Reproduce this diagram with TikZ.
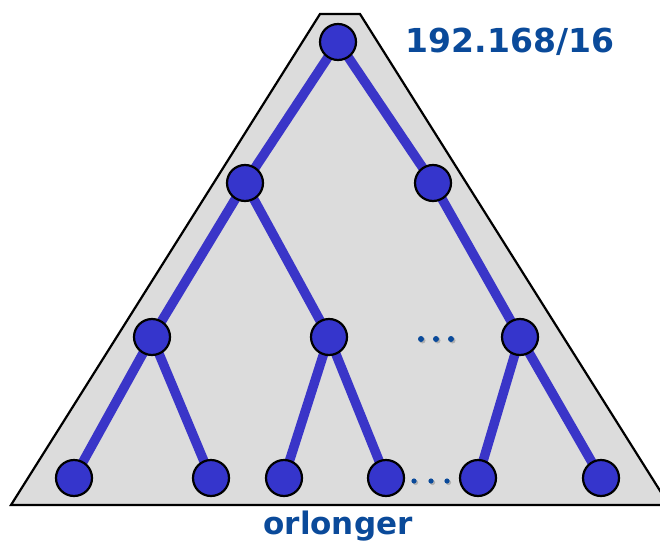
\documentclass[tikz,border=0pt]{standalone}
\usepackage{fontspec}
\setmainfont{DejaVu Sans}
\definecolor{edgeblue}{HTML}{3A35C8}
\definecolor{nodeblue}{HTML}{3535CC}
\definecolor{txtblue}{HTML}{0A4A9A}
\definecolor{tribg}{HTML}{DCDCDC}
\definecolor{shadowgray}{HTML}{B0B0B0}
\begin{document}
\begin{tikzpicture}[x=1pt,y=-1pt,
  vertex/.style={circle,draw=black,line width=2.2pt,fill=nodeblue,minimum size=36pt,inner sep=0pt},
  link/.style={edgeblue,line width=9.5pt},
  dotmark/.style={circle,fill=txtblue,minimum size=6pt,inner sep=0pt},
  lbl/.style={font=\fontsize{33}{35}\selectfont\bfseries,text=txtblue,inner sep=0pt}]
\useasboundingbox (0,0) rectangle (660,548);
\clip (0,0) rectangle (660,548);
\filldraw[fill=tribg,draw=black,line width=2.2pt] (11,505) -- (320,14) -- (360,14) -- (669,505) -- cycle;
% node positions
\coordinate (r) at (338,42);
\coordinate (a) at (245,183);
\coordinate (b) at (433,183);
\coordinate (c) at (152,337);
\coordinate (d) at (329,337);
\coordinate (e) at (520,337);
\coordinate (f) at (74,478);
\coordinate (g) at (211,478);
\coordinate (h) at (284,478);
\coordinate (i) at (386,478);
\coordinate (j) at (478,478);
\coordinate (k) at (601,478);
% edges
\foreach \u/\v in {r/a,r/b,a/c,a/d,b/e,c/f,c/g,d/h,d/i,e/j,e/k}
  \draw[link] (\u) -- (\v);
% nodes
\foreach \n in {r,a,b,c,d,e,f,g,h,i,j,k}
  \node[vertex] (v\n) at (\n) {};
% dots
\foreach \x in {421,436,451} {
  \fill[shadowgray] (\x+1.5,340.5) circle (3pt);
  \node[dotmark] (m\x) at (\x,339) {};
}
\foreach \x in {414,431,447} {
  \fill[shadowgray] (\x+1.5,482.5) circle (2.6pt);
  \node[dotmark,minimum size=5.2pt] (n\x) at (\x,481) {};
}
% labels
\node[lbl] (t1) at (510,42) {192.168/16};
\node[lbl,font=\fontsize{31}{33}\selectfont\bfseries] (t2) at (338,526) {orlonger};
\end{tikzpicture}
\end{document}
